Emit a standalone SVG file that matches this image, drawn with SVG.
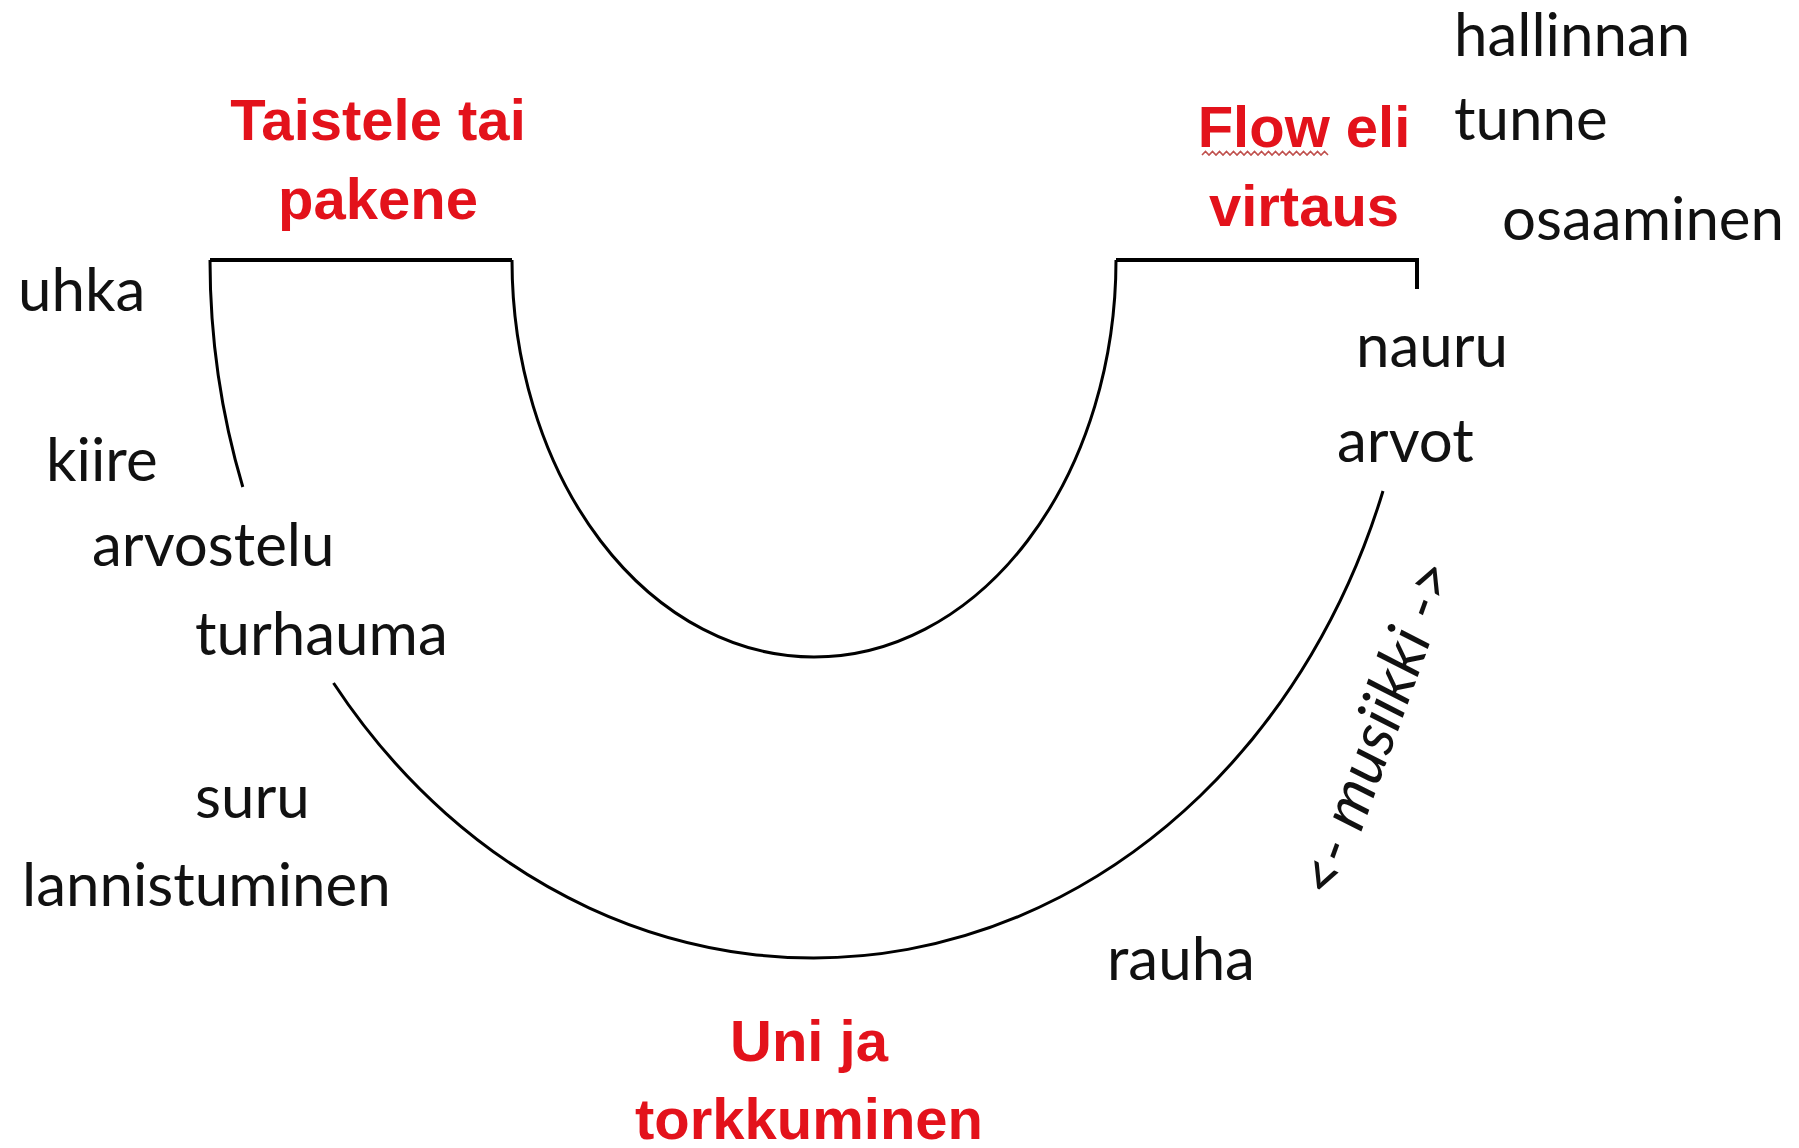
<svg xmlns="http://www.w3.org/2000/svg" width="1799" height="1148" viewBox="0 0 1799 1148">
<style>
.t{font-family:Lato,"Liberation Sans",sans-serif;font-size:60px;fill:#111}
.r{font-family:"Liberation Sans",Arial,sans-serif;font-weight:bold;font-size:58px;fill:#e3121b;text-anchor:middle}
.c{fill:none;stroke:#000;stroke-width:3}
.b{fill:none;stroke:#000;stroke-width:4}
</style>
<rect width="1799" height="1148" fill="#fff"/>
<g id="connectors">
<path class="b" d="M210,260 H512"/>
<path class="b" d="M1116,260 H1417 V289"/>
<path class="c" d="M512,260 A302,397 0 0 0 1116,260"/>
<path class="c" d="M210,260 A603.5,698 0 0 0 242.8,487"/>
<path class="c" d="M333.5,683 A603.5,698 0 0 0 1383,491"/>
</g>
<g id="taistele"><text class="r" x="378" y="140">Taistele tai</text><text class="r" x="378" y="219">pakene</text></g>
<g id="flow"><text class="r" x="1304" y="147">Flow eli</text><text class="r" x="1304" y="226">virtaus</text>
<path d="M1202,155 l3.5,-3.5 l3.5,3.5 l3.5,-3.5 l3.5,3.5 l3.5,-3.5 l3.5,3.5 l3.5,-3.5 l3.5,3.5 l3.5,-3.5 l3.5,3.5 l3.5,-3.5 l3.5,3.5 l3.5,-3.5 l3.5,3.5 l3.5,-3.5 l3.5,3.5 l3.5,-3.5 l3.5,3.5 l3.5,-3.5 l3.5,3.5 l3.5,-3.5 l3.5,3.5 l3.5,-3.5 l3.5,3.5 l3.5,-3.5 l3.5,3.5 l3.5,-3.5 l3.5,3.5 l3.5,-3.5 l3.5,3.5 l3.5,-3.5 l3.5,3.5 l3.5,-3.5 l3.5,3.5 l3.5,-3.5 l3.5,3.5" fill="none" stroke="#c0504d" stroke-width="1.6"/></g>
<g id="uni"><text class="r" x="809" y="1061">Uni ja</text><text class="r" x="809" y="1139">torkkuminen</text></g>
<g id="hallinnan"><text class="t" x="1454" y="56">hallinnan</text></g>
<g id="tunne"><text class="t" x="1454" y="140">tunne</text></g>
<g id="osaaminen"><text class="t" x="1502" y="240">osaaminen</text></g>
<g id="uhka"><text class="t" x="18" y="311">uhka</text></g>
<g id="kiire"><text class="t" x="46" y="481">kiire</text></g>
<g id="arvostelu"><text class="t" x="92" y="566">arvostelu</text></g>
<g id="turhauma"><text class="t" x="195" y="655">turhauma</text></g>
<g id="suru"><text class="t" x="195" y="818">suru</text></g>
<g id="lannistuminen"><text class="t" x="22" y="906">lannistuminen</text></g>
<g id="nauru"><text class="t" x="1356" y="367">nauru</text></g>
<g id="arvot"><text class="t" x="1337" y="462">arvot</text></g>
<g id="rauha"><text class="t" x="1107" y="980">rauha</text></g>
<g id="musiikki"><text class="t" style="font-style:italic;font-size:62px" text-anchor="middle" dy="0.35em" transform="translate(1376,728) rotate(-70)">&lt;- musiikki -&gt;</text></g>
</svg>
